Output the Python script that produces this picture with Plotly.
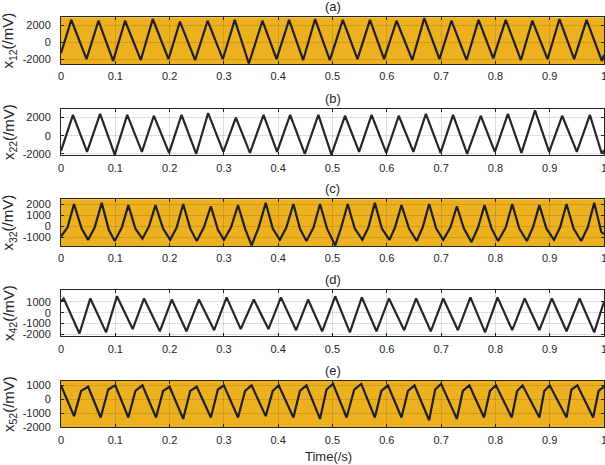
import plotly.graph_objects as go

# ---------------- data ----------------
panel_labels = ["(a)", "(b)", "(c)", "(d)", "(e)"]
ylabels = ["x<sub>12</sub>(/mV)", "x<sub>22</sub>(/mV)", "x<sub>32</sub>(/mV)",
           "x<sub>42</sub>(/mV)", "x<sub>52</sub>(/mV)"]
x_ticks = [0, 0.1, 0.2, 0.3, 0.4, 0.5, 0.6, 0.7, 0.8, 0.9, 1]
x_ticktext = ["0", "0.1", "0.2", "0.3", "0.4", "0.5", "0.6", "0.7", "0.8", "0.9", "1"]

a_time = [0.000, 0.019, 0.047, 0.069, 0.096, 0.118, 0.147, 0.169, 0.198, 0.219, 0.247,
          0.270, 0.298, 0.320, 0.346, 0.371, 0.397, 0.420, 0.446, 0.468, 0.495, 0.519,
          0.546, 0.569, 0.595, 0.618, 0.647, 0.669, 0.697, 0.719, 0.747, 0.769, 0.796,
          0.819, 0.847, 0.868, 0.896, 0.918, 0.945, 0.968, 0.996, 1.000]
a_mv = [-1300, 2600, -2000, 2500, -2200, 2500, -2100, 2700, -2000, 2400, -2100,
        2500, -2000, 2600, -2500, 2500, -2000, 2600, -2100, 2700, -2100, 2600,
        -2000, 2600, -2000, 2500, -2100, 2800, -2000, 2500, -2100, 2600, -1900,
        2600, -2100, 2500, -2000, 2700, -2000, 2600, -2200, -1500]

b_time = [0.000, 0.022, 0.048, 0.072, 0.099, 0.122, 0.149, 0.171, 0.199, 0.222, 0.249,
          0.271, 0.299, 0.322, 0.348, 0.373, 0.398, 0.422, 0.449, 0.474, 0.498, 0.523,
          0.549, 0.572, 0.599, 0.622, 0.649, 0.672, 0.699, 0.722, 0.748, 0.773, 0.799,
          0.823, 0.848, 0.873, 0.899, 0.923, 0.950, 0.974, 0.996, 1.000]
b_mv = [-1700, 2300, -1800, 2400, -2100, 2300, -1800, 2200, -1900, 2300, -2000,
        2500, -1800, 2000, -1900, 2300, -1800, 2300, -2000, 2300, -2100, 2200,
        -1800, 2300, -1900, 2200, -1800, 2400, -1900, 2300, -2000, 2200, -1800,
        2400, -1900, 2800, -1800, 2200, -1800, 2300, -2000, -1600]

c_time = [0.000, 0.012, 0.024, 0.038, 0.050, 0.062, 0.075, 0.088, 0.099, 0.112, 0.124,
          0.137, 0.150, 0.162, 0.174, 0.188, 0.201, 0.213, 0.225, 0.238, 0.250, 0.263,
          0.276, 0.289, 0.300, 0.313, 0.326, 0.339, 0.351, 0.364, 0.377, 0.390, 0.403,
          0.415, 0.428, 0.440, 0.452, 0.465, 0.477, 0.490, 0.505, 0.516, 0.528, 0.541,
          0.555, 0.566, 0.578, 0.591, 0.605, 0.615, 0.627, 0.641, 0.655, 0.666, 0.678,
          0.691, 0.704, 0.717, 0.729, 0.742, 0.756, 0.768, 0.780, 0.793, 0.805, 0.819,
          0.831, 0.844, 0.858, 0.869, 0.881, 0.894, 0.908, 0.919, 0.931, 0.944, 0.958,
          0.970, 0.982, 0.995, 1.000]
c_mv = [-900, -100, 2000, -200, -1200, -100, 2100, -300, -1300, -100, 1900,
        -200, -1100, 0, 1900, -200, -1200, -100, 2000, -200, -1300, -100,
        1800, -300, -1200, -100, 1900, -200, -1700, -100, 2100, -200, -1200,
        -100, 2000, -200, -1300, -100, 2000, -200, -1700, -100, 2000, -200,
        -1200, -100, 2100, -200, -1200, -100, 1900, -200, -1300, -100, 2000,
        -200, -1200, -100, 1800, -200, -1400, -100, 1900, -200, -1300, -100,
        2000, -200, -1300, -100, 1900, -200, -1200, -100, 2000, -200, -1300,
        -100, 2100, -500, -700]

d_time = [0.000, 0.005, 0.034, 0.054, 0.083, 0.103, 0.132, 0.153, 0.182, 0.204, 0.231,
          0.254, 0.282, 0.305, 0.331, 0.355, 0.382, 0.405, 0.433, 0.455, 0.481, 0.505,
          0.532, 0.554, 0.581, 0.604, 0.632, 0.654, 0.681, 0.704, 0.731, 0.754, 0.781,
          0.804, 0.831, 0.854, 0.881, 0.904, 0.931, 0.955, 0.982, 1.000]
d_mv = [1000, 1300, -1900, 1300, -1800, 1500, -1500, 1300, -1700, 1200, -1700,
        1200, -1600, 1400, -1500, 1200, -1500, 1400, -1600, 1200, -1700, 1500,
        -1800, 1400, -1700, 1300, -1600, 1300, -1700, 1300, -1600, 1400, -1800,
        1400, -1600, 1300, -1600, 1300, -1700, 1300, -1800, 1000]

e_time = [0.000, 0.024, 0.037, 0.050, 0.073, 0.087, 0.100, 0.124, 0.137, 0.150, 0.175,
          0.188, 0.200, 0.225, 0.238, 0.250, 0.276, 0.289, 0.300, 0.326, 0.339, 0.351,
          0.377, 0.390, 0.401, 0.428, 0.440, 0.452, 0.477, 0.489, 0.501, 0.526, 0.540,
          0.553, 0.578, 0.590, 0.602, 0.627, 0.639, 0.651, 0.678, 0.689, 0.700, 0.729,
          0.740, 0.752, 0.779, 0.790, 0.801, 0.830, 0.840, 0.850, 0.881, 0.890, 0.900,
          0.931, 0.940, 0.951, 0.980, 0.990, 1.000]
e_mv = [1000, -1200, 600, 900, -1300, 700, 1000, -1300, 600, 1000, -1300,
        600, 900, -1400, 600, 900, -1300, 700, 1000, -1300, 600, 1000,
        -1200, 600, 1000, -1300, 600, 1000, -1400, 700, 1100, -1300, 700,
        1100, -1300, 600, 1000, -1300, 600, 1000, -1500, 700, 1100, -1400,
        600, 1000, -1300, 600, 1000, -1300, 600, 1000, -1300, 600, 1000,
        -1300, 700, 1000, -1300, 600, 900]

y_ranges = [[-2550, 2900], [-2180, 2970], [-1740, 2420], [-2160, 2100], [-2000, 1330]]
y_tickvals = [[-2000, 0, 2000], [-2000, 0, 2000], [-1000, 0, 1000, 2000],
              [-2000, -1000, 0, 1000], [-2000, -1000, 0, 1000]]

times = [a_time, b_time, c_time, d_time, e_time]
values = [a_mv, b_mv, c_mv, d_mv, e_mv]

# ---------------- styling ----------------
W, H = 605, 465
ML, MR = 61, 1
PW = W - ML - MR
ORANGE = "#EDB120"
bg_colors = [ORANGE, "white", ORANGE, "white", ORANGE]
line_colors = ["#1e1e2c", "#262626", "#1e1e2c", "#262626", "#1e1e2c"]
panel_tops = [17.3, 108.8, 199.3, 289.7, 380.7]
panel_h = 46.6
FONT = "Liberation Sans, Arial, sans-serif"

fig = go.Figure()
shapes = []
annotations = []
for i in range(5):
    top = panel_tops[i]
    bot = top + panel_h
    dom = [1 - bot / H, 1 - top / H]
    xa = "xaxis" if i == 0 else f"xaxis{i+1}"
    ya = "yaxis" if i == 0 else f"yaxis{i+1}"
    xr = "x" if i == 0 else f"x{i+1}"
    yr = "y" if i == 0 else f"y{i+1}"
    fig.add_trace(go.Scatter(x=times[i], y=values[i], mode="lines",
                             line=dict(color=line_colors[i], width=2.2),
                             xaxis=xr, yaxis=yr, showlegend=False,
                             hoverinfo="skip"))
    fig.layout[xa] = dict(domain=[0, 1], range=[0, 1], anchor=yr,
                          tickvals=x_ticks, ticktext=x_ticktext,
                          ticks="inside", ticklen=3, tickcolor="#262626",
                          showline=True, linecolor="#262626", linewidth=1,
                          mirror="ticks", showgrid=True,
                          gridcolor="rgba(38,38,38,0.15)", gridwidth=1,
                          zeroline=False, tickfont=dict(size=11, color="#262626"),
                          ticklabelstandoff=2, automargin=False,
                          ticklabeloverflow="allow")
    yt = y_tickvals[i]
    fig.layout[ya] = dict(domain=dom, range=y_ranges[i], anchor=xr,
                          tickvals=yt, ticktext=[str(v) for v in yt],
                          ticks="inside", ticklen=3, tickcolor="#262626",
                          showline=True, linecolor="#262626", linewidth=1,
                          mirror="ticks", showgrid=True,
                          gridcolor="rgba(38,38,38,0.15)", gridwidth=1,
                          zeroline=False, tickfont=dict(size=11, color="#262626"),
                          ticklabelstandoff=7, automargin=False,
                          ticklabeloverflow="allow")
    if bg_colors[i] != "white":
        shapes.append(dict(type="rect", xref=f"{xr} domain", yref=f"{yr} domain",
                           x0=0, x1=1, y0=0, y1=1, fillcolor=bg_colors[i],
                           line=dict(width=0), layer="below"))
    annotations.append(dict(text=panel_labels[i], xref="paper", yref="paper",
                            x=0.5, y=1 - (top - 1.0) / H, xanchor="center",
                            yanchor="bottom", showarrow=False,
                            font=dict(size=13, color="#262626", family=FONT)))
    annotations.append(dict(text=ylabels[i], xref="paper", yref="paper",
                            x=(9 - ML) / PW, y=1 - (top + panel_h / 2) / H,
                            xanchor="center", yanchor="middle", textangle=-90,
                            showarrow=False,
                            font=dict(size=15, color="#262626", family=FONT)))

annotations.append(dict(text="Time(/s)", xref="paper", yref="paper",
                        x=(328 - ML) / PW, y=1 - 456 / H, xanchor="center",
                        yanchor="middle", showarrow=False,
                        font=dict(size=13, color="#262626", family=FONT)))

fig.update_layout(width=W, height=H, autosize=False,
                  margin=dict(l=ML, r=MR, t=0, b=0, autoexpand=False),
                  paper_bgcolor="white", plot_bgcolor="white",
                  font=dict(family=FONT, color="#262626"),
                  shapes=shapes, annotations=annotations)

fig.write_html("out.html", config={"displayModeBar": False},
               post_script="document.body.style.margin='0';document.body.style.overflow='hidden';")
